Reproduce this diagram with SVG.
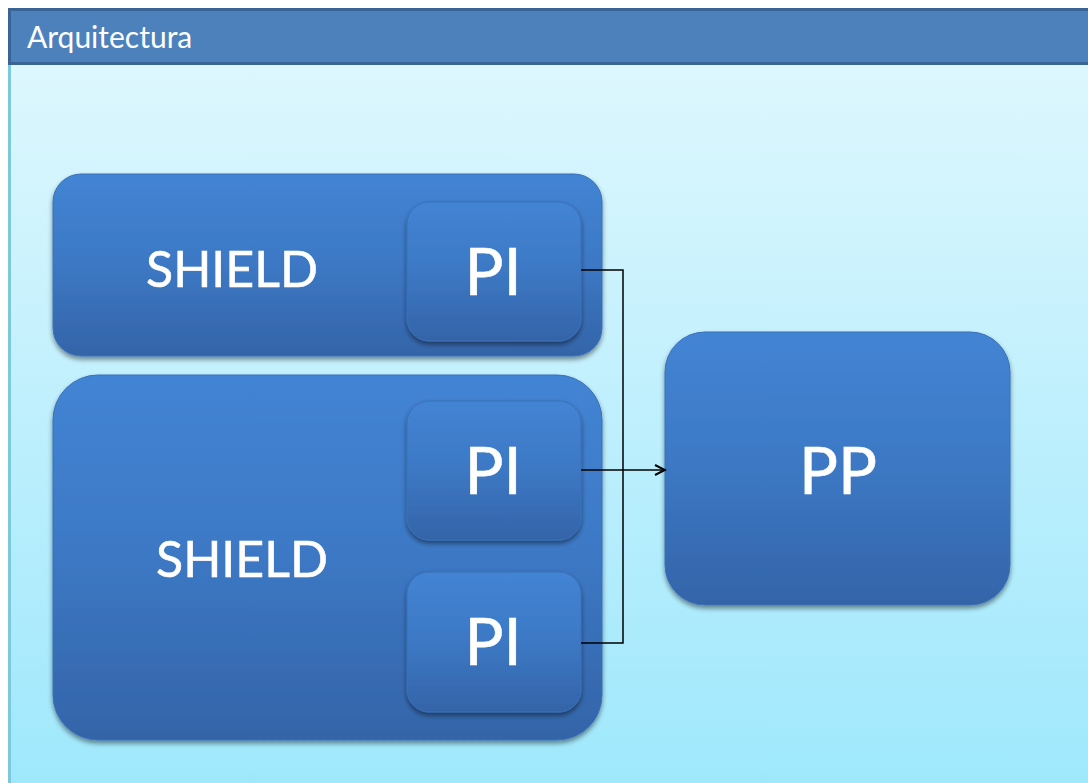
<svg xmlns="http://www.w3.org/2000/svg" width="1088" height="783" viewBox="0 0 1088 783">
<defs>
<linearGradient id="bg" x1="0" y1="0" x2="0" y2="1">
<stop offset="0" stop-color="#e2f8fe"/>
<stop offset="1" stop-color="#9fe8fc"/>
</linearGradient>
<linearGradient id="box" x1="0" y1="0" x2="0" y2="1">
<stop offset="0" stop-color="#4384d4"/>
<stop offset="0.5" stop-color="#3c78c4"/>
<stop offset="1" stop-color="#3464a8"/>
</linearGradient>
<filter id="sh" x="-10%" y="-10%" width="120%" height="125%">
<feGaussianBlur in="SourceAlpha" stdDeviation="2.5"/>
<feOffset dx="0" dy="3" result="b"/>
<feComponentTransfer><feFuncA type="linear" slope="0.45"/></feComponentTransfer>
<feMerge><feMergeNode/><feMergeNode in="SourceGraphic"/></feMerge>
</filter>
<marker id="arr" markerWidth="14" markerHeight="14" refX="12" refY="7" orient="auto" markerUnits="userSpaceOnUse">
<path d="M2,2 L12,7 L2,12" fill="none" stroke="#000" stroke-width="2"/>
</marker>
<style>
.node{fill:url(#box);stroke:#3a70b8;stroke-width:1;filter:url(#sh)}
.lbl{font-family:Lato,"Open Sans","Liberation Sans",sans-serif;fill:#fff;stroke:#fff;stroke-width:0.6;text-anchor:middle}
.conn{fill:none;stroke:#000;stroke-width:1.5}
</style>
</defs>
<rect x="0" y="0" width="1088" height="783" fill="#fff"/>
<rect x="8" y="8" width="1080" height="775" fill="url(#bg)"/>
<rect x="8" y="65" width="3" height="718" fill="#7cc8dc"/>
<g id="header">
<rect x="8" y="8" width="1080" height="57" fill="#4d81bc"/>
<rect x="8" y="8" width="1080" height="3" fill="#3a6396"/>
<rect x="8" y="62" width="1080" height="3" fill="#3a6396"/>
<rect x="8" y="8" width="3" height="57" fill="#3a6396"/>
<text x="27" y="48" font-family="Lato,'Open Sans','Liberation Sans',sans-serif" font-size="30" fill="#fff">Arquitectura</text>
</g>
<g id="shield1">
<rect class="node" x="53" y="174" width="549" height="182" rx="28"/>
<text class="lbl" x="232" y="287" font-size="50">SHIELD</text>
</g>
<g id="shield2">
<rect class="node" x="53" y="375" width="549" height="365" rx="45"/>
<text class="lbl" x="242" y="577" font-size="50">SHIELD</text>
</g>
<g id="pi1">
<rect class="node" x="407" y="202" width="174" height="139" rx="22"/>
<text class="lbl" x="493" y="295" font-size="65">PI</text>
</g>
<g id="pi2">
<rect class="node" x="407" y="401" width="174" height="139" rx="22"/>
<text class="lbl" x="493" y="494" font-size="65">PI</text>
</g>
<g id="pi3">
<rect class="node" x="407" y="572" width="174" height="140" rx="22"/>
<text class="lbl" x="493" y="665" font-size="65">PI</text>
</g>
<g id="pp">
<rect class="node" x="665" y="332" width="345" height="273" rx="40"/>
<text class="lbl" x="838" y="494" font-size="65">PP</text>
</g>
<g id="connectors">
<polyline class="conn" points="581,270 623,270 623,643 581,643"/>
<line class="conn" x1="581" y1="470" x2="665" y2="470" marker-end="url(#arr)"/>
</g>
</svg>
